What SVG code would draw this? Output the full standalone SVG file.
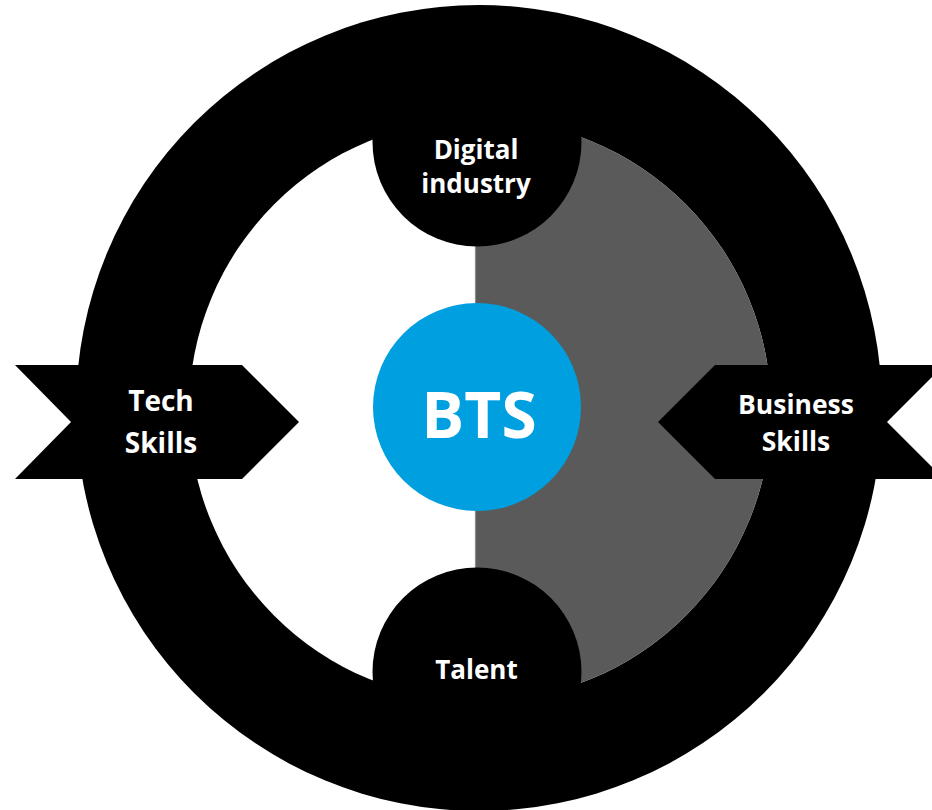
<svg xmlns="http://www.w3.org/2000/svg" width="932" height="810" viewBox="0 0 932 810">
<style>
.blk{fill:#000}
.lbl{font-family:"Open Sans","Noto Sans",sans-serif;font-weight:700;fill:#fff;text-anchor:middle}
</style>
<defs>
<clipPath id="innerClip"><circle cx="480" cy="410" r="291"/></clipPath>
</defs>
<rect width="932" height="810" fill="#fff"/>
<g id="ring">
<circle cx="479" cy="408" r="403" class="blk"/>
<circle cx="480" cy="410" r="291" fill="#fff"/>
<rect x="475" y="100" width="320" height="620" fill="#5a5a5a" clip-path="url(#innerClip)"/>
</g>
<g id="connectors">
<line x1="475.5" y1="240" x2="475.5" y2="575" stroke="#8a8a8a" stroke-width="1.2"/>
</g>
<g id="tech-skills">
<polygon class="blk" points="15,365 242,365 299,422 242,479 15,479 71,422"/>
<text class="lbl" font-size="28" x="161" y="411">Tech</text>
<text class="lbl" font-size="28" x="161" y="453">Skills</text>
</g>
<g id="business-skills">
<polygon class="blk" points="658,422 715,365 944,365 887,422 944,479 715,479"/>
<text class="lbl" font-size="26.5" x="796" y="414">Business</text>
<text class="lbl" font-size="26.5" x="796" y="451">Skills</text>
</g>
<g id="digital-industry">
<circle cx="477" cy="142" r="104.5" class="blk"/>
<text class="lbl" font-size="26" x="476" y="159">Digital</text>
<text class="lbl" font-size="26" x="476" y="193">industry</text>
</g>
<g id="talent">
<circle cx="477" cy="672" r="104.5" class="blk"/>
<text class="lbl" font-size="26" x="476.5" y="679">Talent</text>
</g>
<g id="bts">
<circle cx="477" cy="407" r="104" fill="#009fe0"/>
<text class="lbl" font-size="64" x="479" y="438">BTS</text>
</g>
</svg>
